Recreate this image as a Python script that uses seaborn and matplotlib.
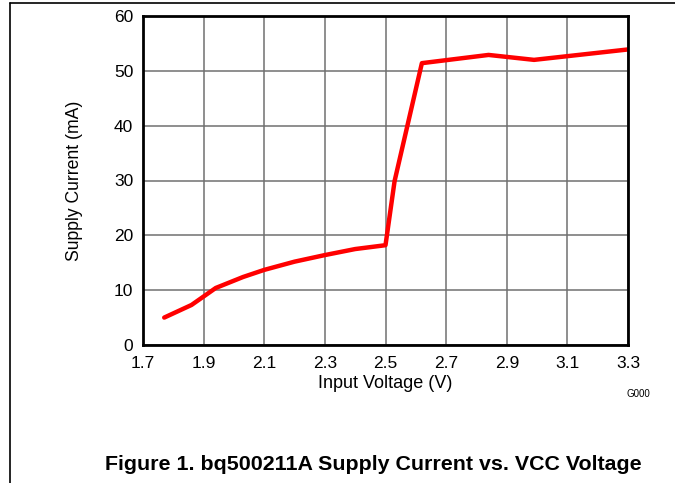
import matplotlib
matplotlib.use("Agg")
import matplotlib.pyplot as plt
from matplotlib.lines import Line2D
import seaborn as sns
import pandas as pd

# Data
voltage = [1.77, 1.86, 1.94, 2.03, 2.10, 2.20, 2.30, 2.40, 2.50, 2.53, 2.62, 2.84, 2.99, 3.30]
current = [5.0, 7.3, 10.4, 12.4, 13.7, 15.2, 16.4, 17.5, 18.2, 29.9, 51.4, 52.9, 52.0, 53.9]
x_ticks = [1.7, 1.9, 2.1, 2.3, 2.5, 2.7, 2.9, 3.1, 3.3]
y_ticks = [0, 10, 20, 30, 40, 50, 60]

df = pd.DataFrame({"Input Voltage (V)": voltage, "Supply Current (mA)": current})

sns.set_theme(style="white")
plt.rcParams["font.family"] = ["Liberation Sans", "DejaVu Sans"]
plt.rcParams["text.color"] = "black"

fig = plt.figure(figsize=(6.75, 4.83), dpi=100)
ax = fig.add_axes([143 / 675, 1 - 345 / 483, 485 / 675, 329 / 483])

sns.lineplot(data=df, x="Input Voltage (V)", y="Supply Current (mA)", ax=ax,
             color="#ff0000", linewidth=3.2, estimator=None, sort=False)

ax.set_xlim(1.7, 3.3)
ax.set_ylim(0, 60)
ax.set_xticks(x_ticks)
ax.set_xticklabels([f"{v:.1f}" for v in x_ticks])
ax.set_yticks(y_ticks)
ax.set_yticklabels([str(v) for v in y_ticks])
ax.grid(True, color="#707070", linewidth=1.1)
ax.tick_params(axis="both", length=0, labelsize=12.5, colors="black")
ax.tick_params(axis="x", pad=8)
ax.tick_params(axis="y", pad=7)
for s in ax.spines.values():
    s.set_color("black")
    s.set_linewidth(2)
ax.set_xlabel("Input Voltage (V)", fontsize=13, labelpad=3, color="black")
ax.set_ylabel("Supply Current (mA)", fontsize=12.7, labelpad=22, color="black")

fig.text(638 / 675, 1 - 394 / 483, "G000", fontsize=7, ha="center", va="center", color="black")
fig.text(373 / 675, 1 - 464 / 483, "Figure 1. bq500211A Supply Current vs. VCC Voltage",
         fontsize=15.4, fontweight="bold", ha="center", va="center", color="black")

# page frame lines
fig.add_artist(Line2D([10 / 675, 10 / 675], [0, 1 - 3 / 483], color="black", linewidth=1.2))
fig.add_artist(Line2D([10 / 675, 1], [1 - 3 / 483, 1 - 3 / 483], color="black", linewidth=1.2))

fig.savefig("out.png", dpi=100)
plt.close(fig)
